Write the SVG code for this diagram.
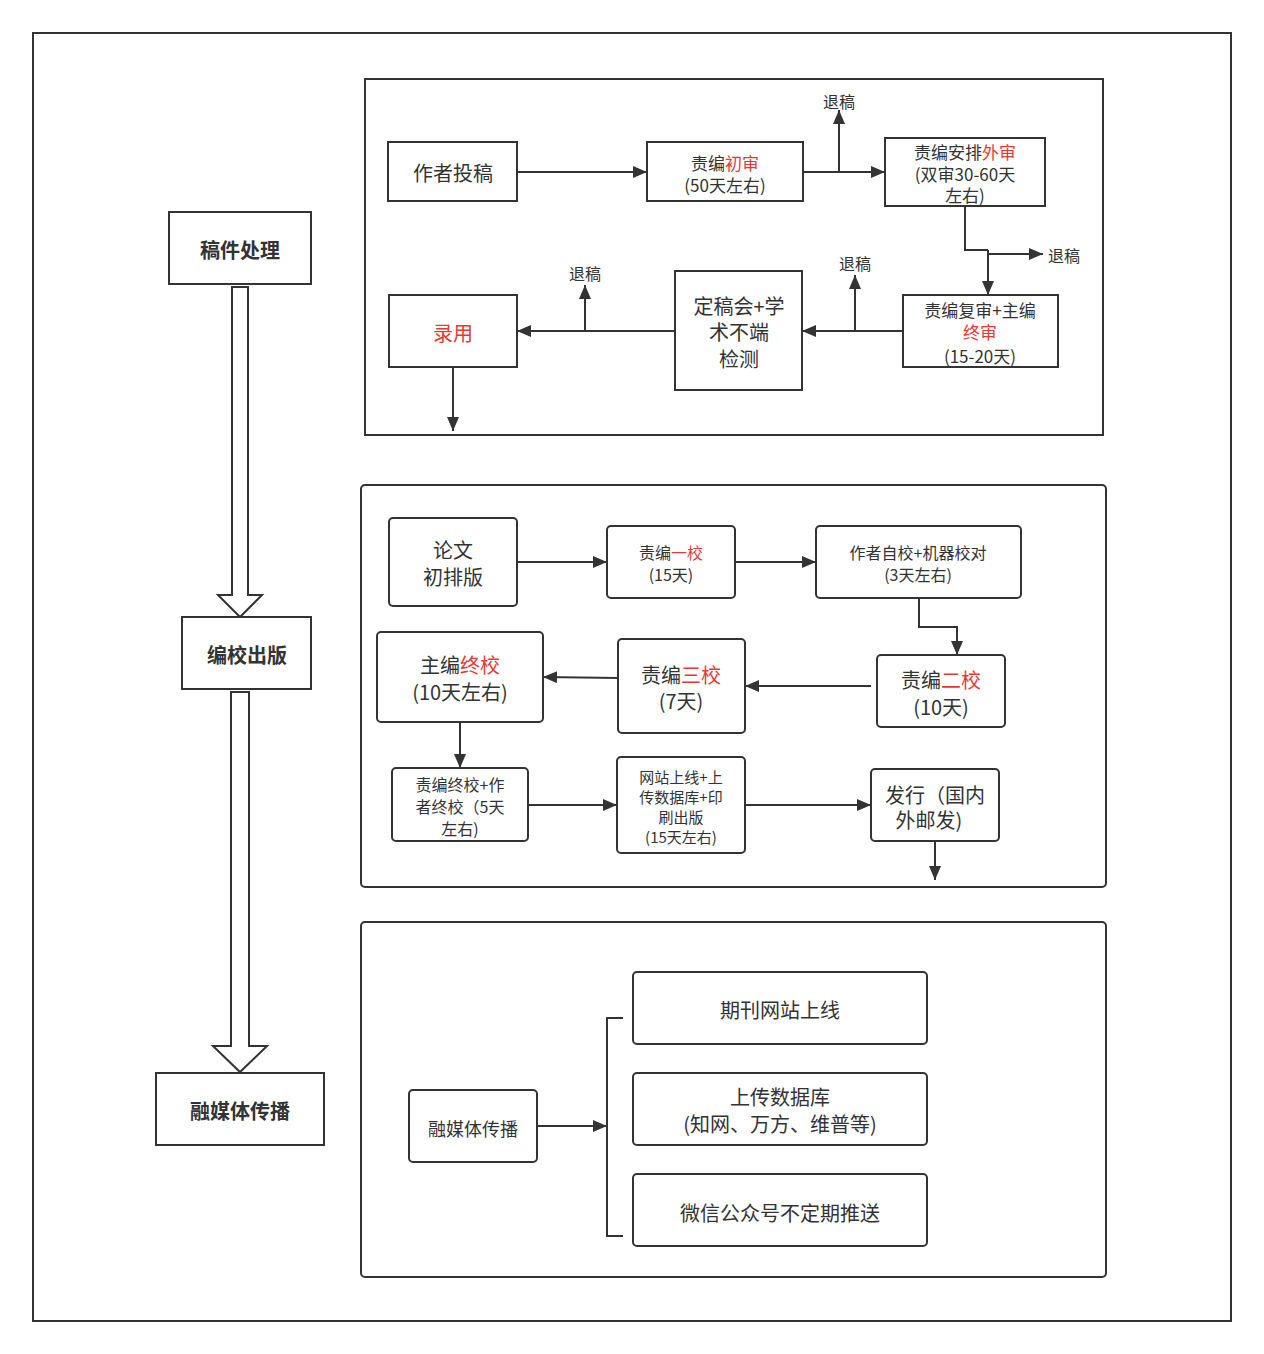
<svg xmlns="http://www.w3.org/2000/svg" width="1264" height="1354" viewBox="0 0 1264 1354">
<defs>
<marker id="ah" viewBox="0 0 14 12" refX="14" refY="6" markerWidth="14" markerHeight="12" markerUnits="userSpaceOnUse" orient="auto">
<path d="M0,0 L14,6 L0,12 Z" fill="#333"/>
</marker>
<style>
.frame{fill:#fff;stroke:#333;stroke-width:2}
.box{fill:#fff;stroke:#333;stroke-width:2}
.t{font-family:"Noto Sans CJK SC","Noto Sans",sans-serif;fill:#333;text-anchor:middle;dominant-baseline:central}
.b{font-weight:bold}
.r{fill:#e53935}
.c{fill:none;stroke:#333;stroke-width:2}
.ca{fill:none;stroke:#333;stroke-width:2;marker-end:url(#ah)}
.hollow{fill:#fff;stroke:#333;stroke-width:2}
</style>
</defs>
<rect width="1264" height="1354" fill="#fff"/>
<rect class="frame" x="33" y="33" width="1198" height="1288"/>
<rect class="frame" x="365" y="79" width="738" height="356"/>
<rect class="frame" x="361" y="485" width="745" height="402" rx="4"/>
<rect class="frame" x="361" y="922" width="745" height="355" rx="4"/>

<g id="connectors">
<!-- left hollow arrows -->
<path class="hollow" d="M232,287 H248 V595 H262 L240,617 L218,595 H232 Z"/>
<path class="hollow" d="M231,692 H249 V1046 H267 L240,1072 L213,1046 H231 Z"/>
<!-- section 1 -->
<line class="ca" x1="517" y1="172" x2="647" y2="172"/>
<line class="ca" x1="803" y1="172" x2="885" y2="172"/>
<line class="ca" x1="839" y1="172" x2="839" y2="110"/>
<polyline class="c" points="965,206 965,250 988,250"/>
<line class="ca" x1="988" y1="250" x2="988" y2="295"/>
<line class="ca" x1="988" y1="254" x2="1043" y2="254"/>
<line class="ca" x1="903" y1="331" x2="802" y2="331"/>
<line class="ca" x1="855" y1="331" x2="855" y2="275"/>
<line class="ca" x1="675" y1="331" x2="517" y2="331"/>
<line class="ca" x1="585" y1="331" x2="585" y2="285"/>
<line class="ca" x1="453" y1="367" x2="453" y2="431"/>
<!-- section 2 -->
<line class="ca" x1="517" y1="562" x2="607" y2="562"/>
<line class="ca" x1="735" y1="562" x2="816" y2="562"/>
<polyline class="ca" points="919,598 919,627 957,627 957,655"/>
<line class="ca" x1="871" y1="686" x2="745" y2="686"/>
<line class="ca" x1="618" y1="678" x2="543" y2="677"/>
<line class="ca" x1="460" y1="722" x2="460" y2="768"/>
<line class="ca" x1="528" y1="805" x2="617" y2="805"/>
<line class="ca" x1="745" y1="805" x2="871" y2="805"/>
<line class="ca" x1="935" y1="841" x2="935" y2="880"/>
<!-- section 3 -->
<line class="ca" x1="537" y1="1126" x2="607" y2="1126"/>
<polyline class="c" points="623,1018 607,1018 607,1236 623,1236"/>
</g>

<g id="labels">
<text class="t" x="839" y="101" font-size="16">退稿</text>
<text class="t" x="1064" y="255" font-size="16">退稿</text>
<text class="t" x="855" y="263" font-size="16">退稿</text>
<text class="t" x="585" y="273" font-size="16">退稿</text>
</g>

<g id="n-gjcl"><rect class="box" x="169" y="212" width="142" height="72"/><text class="t b" x="240" y="249" font-size="20">稿件处理</text></g>
<g id="n-bjcb"><rect class="box" x="182" y="617" width="129" height="72"/><text class="t b" x="247" y="654" font-size="20">编校出版</text></g>
<g id="n-rmtcb"><rect class="box" x="156" y="1073" width="168" height="72"/><text class="t b" x="240" y="1110" font-size="20">融媒体传播</text></g>

<g id="n-zztg"><rect class="box" x="388" y="142" width="129" height="59"/><text class="t" x="453" y="172" font-size="20">作者投稿</text></g>
<g id="n-cs"><rect class="box" x="647" y="142" width="156" height="59"/><text class="t" x="725" y="162" font-size="17">责编<tspan class="r">初审</tspan></text><text class="t" x="725" y="184" font-size="17">(50天左右)</text></g>
<g id="n-ws"><rect class="box" x="885" y="138" width="160" height="68"/><text class="t" x="965" y="151" font-size="17">责编安排<tspan class="r">外审</tspan></text><text class="t" x="965" y="173" font-size="17">(双审30-60天</text><text class="t" x="965" y="194" font-size="17">左右)</text></g>
<g id="n-fs"><rect class="box" x="903" y="295" width="155" height="72"/><text class="t" x="980" y="309" font-size="17">责编复审+主编</text><text class="t r" x="980" y="331" font-size="17">终审</text><text class="t" x="980" y="355" font-size="17">(15-20天)</text></g>
<g id="n-dgh"><rect class="box" x="675" y="271" width="127" height="119"/><text class="t" x="739" y="305" font-size="20">定稿会+学</text><text class="t" x="739" y="331" font-size="20">术不端</text><text class="t" x="739" y="358" font-size="20">检测</text></g>
<g id="n-ly"><rect class="box" x="389" y="295" width="128" height="72"/><text class="t r" x="453" y="332" font-size="20">录用</text></g>

<g id="n-lw"><rect class="box" x="389" y="518" width="128" height="88" rx="4"/><text class="t" x="453" y="549" font-size="20">论文</text><text class="t" x="453" y="576" font-size="20">初排版</text></g>
<g id="n-yj"><rect class="box" x="607" y="526" width="128" height="72" rx="4"/><text class="t" x="671" y="552" font-size="16">责编<tspan class="r">一校</tspan></text><text class="t" x="671" y="574" font-size="16">(15天)</text></g>
<g id="n-zx"><rect class="box" x="816" y="526" width="205" height="72" rx="4"/><text class="t" x="918" y="552" font-size="16">作者自校+机器校对</text><text class="t" x="918" y="574" font-size="16">(3天左右)</text></g>
<g id="n-ej"><rect class="box" x="877" y="655" width="128" height="72" rx="4"/><text class="t" x="941" y="679" font-size="20">责编<tspan class="r">二校</tspan></text><text class="t" x="941" y="706" font-size="20">(10天)</text></g>
<g id="n-sj"><rect class="box" x="618" y="639" width="127" height="94" rx="4"/><text class="t" x="681" y="674" font-size="20">责编<tspan class="r">三校</tspan></text><text class="t" x="681" y="700" font-size="20">(7天)</text></g>
<g id="n-zj"><rect class="box" x="377" y="632" width="166" height="90" rx="4"/><text class="t" x="460" y="664" font-size="20">主编<tspan class="r">终校</tspan></text><text class="t" x="460" y="691" font-size="20">(10天左右)</text></g>
<g id="n-zzzj"><rect class="box" x="392" y="768" width="136" height="73" rx="4"/><text class="t" x="460" y="784" font-size="16">责编终校+作</text><text class="t" x="460" y="806" font-size="16">者终校（5天</text><text class="t" x="460" y="828" font-size="16">左右)</text></g>
<g id="n-wz"><rect class="box" x="617" y="757" width="128" height="96" rx="4"/><text class="t" x="681" y="776" font-size="15">网站上线+上</text><text class="t" x="681" y="796" font-size="15">传数据库+印</text><text class="t" x="681" y="816" font-size="15">刷出版</text><text class="t" x="681" y="836" font-size="15">(15天左右)</text></g>
<g id="n-fx"><rect class="box" x="871" y="769" width="128" height="72" rx="4"/><text class="t" x="935" y="794" font-size="20">发行（国内</text><text class="t" x="929" y="819" font-size="20">外邮发)</text></g>

<g id="n-rmt2"><rect class="box" x="409" y="1090" width="128" height="72" rx="4"/><text class="t" x="473" y="1128" font-size="18">融媒体传播</text></g>
<g id="n-wzsx"><rect class="box" x="633" y="972" width="294" height="72" rx="4"/><text class="t" x="780" y="1009" font-size="20">期刊网站上线</text></g>
<g id="n-sc"><rect class="box" x="633" y="1073" width="294" height="72" rx="4"/><text class="t" x="780" y="1096" font-size="20">上传数据库</text><text class="t" x="780" y="1123" font-size="20">(知网、万方、维普等)</text></g>
<g id="n-wx"><rect class="box" x="633" y="1174" width="294" height="72" rx="4"/><text class="t" x="780" y="1212" font-size="20">微信公众号不定期推送</text></g>
</svg>
